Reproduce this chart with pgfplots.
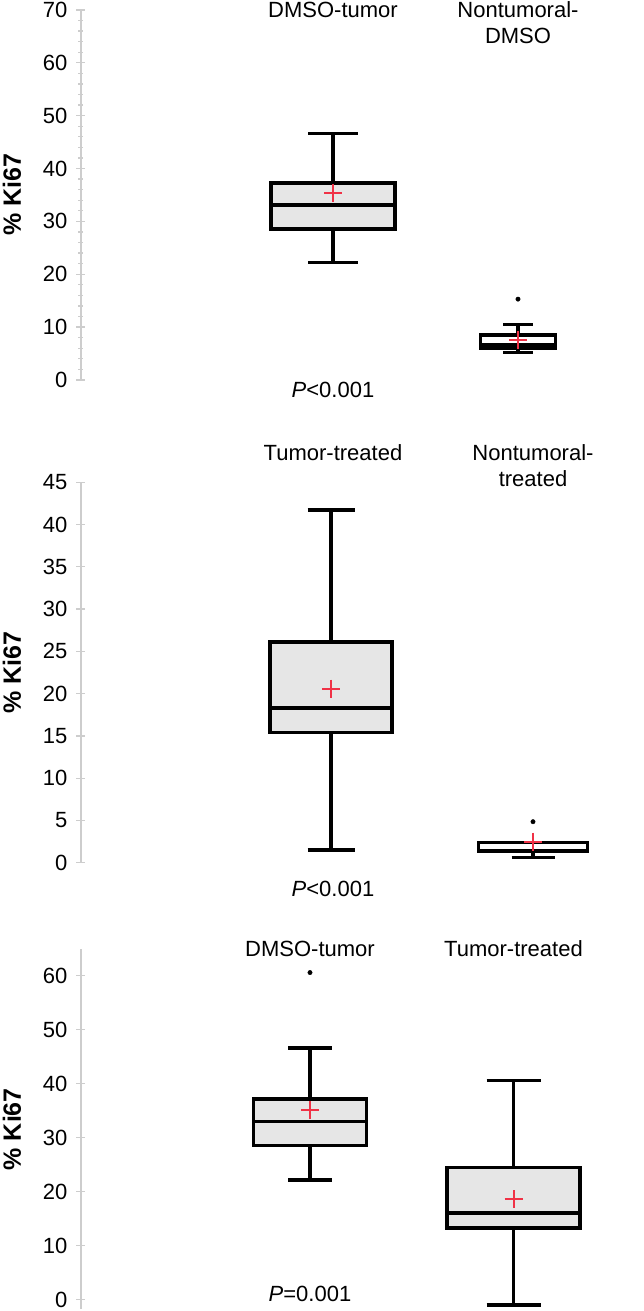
\documentclass[border=0pt]{standalone}
\usepackage{fontspec}
\setmainfont{Liberation Sans}
\usepackage{pgfplots}
\pgfplotsset{compat=1.18}

\definecolor{boxfill}{RGB}{230,230,230}
\definecolor{axgray}{RGB}{205,205,205}
\definecolor{meanred}{RGB}{240,50,70}

\newcommand{\lbl}{\fontsize{22}{26}\selectfont}

\pgfplotsset{
  kiaxis/.style={
    scale only axis, anchor=south west,
    xmin=81, xmax=640, width=559pt,
    axis x line=none, axis y line=left,
    y axis line style={-, draw=axgray, line width=1.3pt},
    ytick style={draw=axgray, line width=1.3pt},
    tick align=center, major tick length=9pt, minor tick length=5pt,
    yticklabel style={font=\lbl, anchor=east, inner sep=0pt, xshift=-9pt},
    /pgf/number format/assume math mode=true,
    clip=false,
  },
  bxl/.style={black, solid, line width=3.5pt, mark=none},
  mn/.style={only marks, mark=+, mark size=9pt, meanred, line width=2pt},
  outl/.style={only marks, mark=*, mark size=2.2pt, black, mark options={fill=black, line width=0.4pt}},
}

% #1 position, #2 half box width, #3 half cap width, #4 lower whisker,
% #5 lower quartile, #6 median, #7 upper quartile, #8 upper whisker, #9 fill
\newcommand{\kibox}[9]{%
  \pgfmathsetmacro\kbL{#1-#2}\pgfmathsetmacro\kbR{#1+#2}%
  \pgfmathsetmacro\kcL{#1-#3}\pgfmathsetmacro\kcR{#1+#3}%
  \addplot[bxl] coordinates {(#1,#4) (#1,#5)};
  \addplot[bxl] coordinates {(#1,#7) (#1,#8)};
  \addplot[bxl] coordinates {(\kcL,#4) (\kcR,#4)};
  \addplot[bxl] coordinates {(\kcL,#8) (\kcR,#8)};
  \addplot[bxl, fill=#9] coordinates {(\kbL,#5) (\kbR,#5) (\kbR,#7) (\kbL,#7)} --cycle;
  \addplot[bxl] coordinates {(\kbL,#6) (\kbR,#6)};
}

\begin{document}
\begin{tikzpicture}
\useasboundingbox (0,0) rectangle (644pt,1311pt);

% ---------- Panel 1 ----------
\begin{axis}[kiaxis, at={(81pt,931pt)}, ymin=0, ymax=70, height=370pt,
  ytick={0,10,...,70}, minor y tick num=4]
\kibox{333}{62}{25}{22.2}{28.6}{33.1}{37.3}{46.6}{boxfill}
\kibox{518}{37.5}{15}{5.2}{6.0}{6.6}{8.5}{10.5}{white}
\addplot[outl] coordinates {(518,15.3)};
\addplot[mn] coordinates {(333,35.4) (518,7.6)};
\node[font=\lbl, anchor=base] at (axis cs:333,68.6) {DMSO-tumor};
\node[font=\lbl, anchor=base] at (axis cs:518,68.6) {Nontumoral-};
\node[font=\lbl, anchor=base] at (axis cs:518,63.7) {DMSO};
\node[font=\lbl, anchor=base] at (axis cs:333,-3.4) {\textit{P}<0.001};
\node[font=\fontsize{25}{28}\selectfont\bfseries, rotate=90] at (axis cs:12,35) {\% Ki67};
\end{axis}

% ---------- Panel 2 ----------
\begin{axis}[kiaxis, at={(81pt,448.3pt)}, ymin=0, ymax=45, height=380.4pt,
  ytick={0,5,...,45}]
\kibox{331}{61}{23.5}{1.5}{15.4}{18.3}{26.1}{41.7}{boxfill}
\kibox{533}{54.5}{21.5}{0.6}{1.4}{1.4}{2.4}{2.4}{white}
\addplot[outl] coordinates {(533,4.85)};
\addplot[mn] coordinates {(331,20.6) (533,2.5)};
\node[font=\lbl, anchor=base] at (axis cs:333,47.6) {Tumor-treated};
\node[font=\lbl, anchor=base] at (axis cs:533,47.6) {Nontumoral-};
\node[font=\lbl, anchor=base] at (axis cs:533,44.5) {treated};
\node[font=\lbl, anchor=base] at (axis cs:333,-4.0) {\textit{P}<0.001};
\node[font=\fontsize{25}{28}\selectfont\bfseries, rotate=90] at (axis cs:12,22.5) {\% Ki67};
\end{axis}

% ---------- Panel 3 ----------
\begin{axis}[kiaxis, at={(81pt,2pt)}, ymin=-1.7, ymax=65, height=360.2pt,
  ytick={0,10,...,60}]
\kibox{310}{56.5}{22}{22.2}{28.6}{33.0}{37.2}{46.6}{boxfill}
\kibox{513.5}{66.5}{27}{-1.0}{13.3}{16.1}{24.5}{40.6}{boxfill}
\addplot[outl] coordinates {(310,60.6)};
\addplot[mn] coordinates {(310,35.2) (513.5,18.6)};
\node[font=\lbl, anchor=base] at (axis cs:310,63.6) {DMSO-tumor};
\node[font=\lbl, anchor=base] at (axis cs:513.5,63.6) {Tumor-treated};
\node[font=\lbl, anchor=base] at (axis cs:310,-0.3) {\textit{P}=0.001};
\node[font=\fontsize{25}{28}\selectfont\bfseries, rotate=90] at (axis cs:12,31.6) {\% Ki67};
\end{axis}
\end{tikzpicture}
\end{document}
